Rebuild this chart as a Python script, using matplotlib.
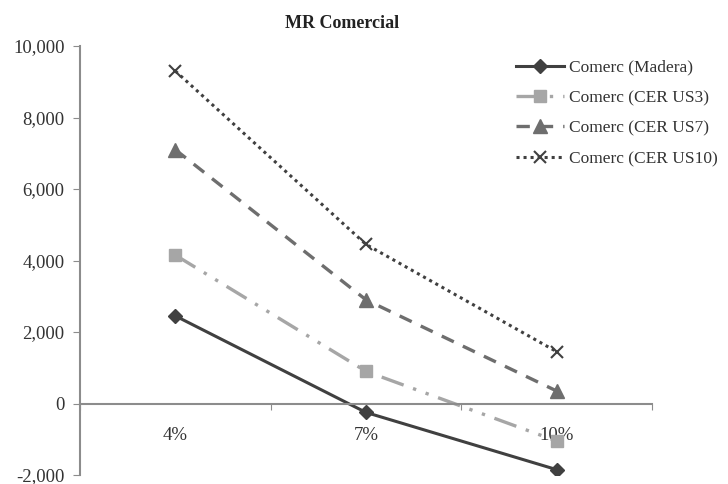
import matplotlib.pyplot as plt
from matplotlib.ticker import FuncFormatter, FixedLocator

plt.rcParams['font.family'] = ['Liberation Serif', 'DejaVu Serif']

# tasas de descuento y valores de cada serie
tasas = ["4%", "7%", "10%"]
madera = [2450, -250, -1850]
cer_us3 = [4150, 900, -1050]
cer_us7 = [7100, 2900, 350]
cer_us10 = [9300, 4450, 1450]

txt = "#333333"
fig = plt.figure(figsize=(7.28, 4.84), dpi=100)
ax = fig.add_axes([80 / 728, 9 / 484, 572 / 728, 429 / 484])

x = list(range(len(tasas)))
ax.plot(x, madera, color="#404040", lw=2.2, marker="D", ms=7.5,
        label="Comerc (Madera)")
ax.plot(x, cer_us3, color="#a6a6a6", lw=2.4, marker="s", ms=9,
        dashes=(7, 3, 1, 3, 1, 3), label="Comerc (CER US3)")
ax.plot(x, cer_us7, color="#6e6e6e", lw=2.4, marker="^", ms=10,
        dashes=(4, 3), label="Comerc (CER US7)")
ax.plot(x, cer_us10, color="#404040", lw=2.2, marker="x", ms=9, mew=1.5,
        dashes=(1, 1.3), label="Comerc (CER US10)")

ax.set_xlim(-0.5, 2.5)
ax.set_ylim(-2000, 10000)
ax.set_yticks(range(-2000, 10001, 2000))
ax.yaxis.set_major_formatter(FuncFormatter(lambda v, p: f"{int(v):,}"))

# eje de categorías sobre el cero, marcas entre categorías
ax.spines["bottom"].set_position(("data", 0))
ax.spines["top"].set_visible(False)
ax.spines["right"].set_visible(False)
for s in ("left", "bottom"):
    ax.spines[s].set_color("#8c8c8c")
    ax.spines[s].set_linewidth(1.5)
ax.xaxis.set_major_locator(FixedLocator([-0.5, 0.5, 1.5, 2.5]))
ax.xaxis.set_major_formatter(FuncFormatter(lambda v, p: ""))
ax.xaxis.set_minor_locator(FixedLocator(x))
ax.set_xticklabels(tasas, minor=True)
ax.tick_params(axis="x", which="major", direction="out", length=4,
               color="#8c8c8c")
ax.tick_params(axis="x", which="minor", length=0, pad=17, labelsize=13.5,
               labelcolor=txt)
ax.tick_params(axis="y", direction="out", length=5, color="#8c8c8c",
               labelsize=13.5, labelcolor=txt, pad=6)
ax.patch.set_visible(False)

fig.text(342 / 728, 1 - 24 / 484, "MR Comercial", ha="center", va="center",
         fontsize=13, fontweight="bold", color="#222222")

fig.legend(loc="upper left", bbox_to_anchor=(500 / 728, 1 - 44 / 484),
           frameon=False, fontsize=12.5, handlelength=2.8, handletextpad=0.3,
           labelspacing=0.82, labelcolor=txt)

fig.savefig("out.png", dpi=100)
